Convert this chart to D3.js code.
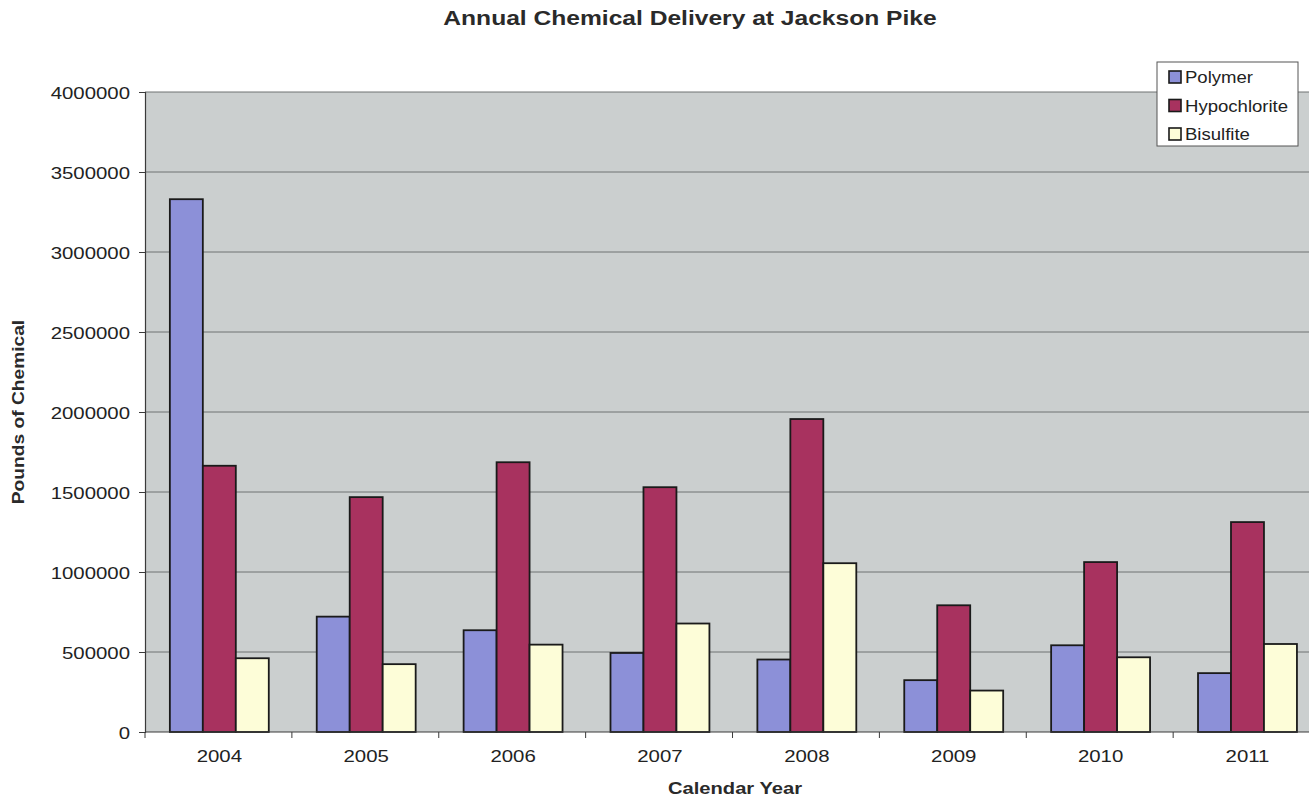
<!DOCTYPE html>
<html>
<head>
<meta charset="utf-8">
<script src="https://cdn.jsdelivr.net/npm/d3@7"></script>
<style>
  body { margin: 0; background: #fff; }
  svg { display: block; font-family: "Liberation Sans", Arial, sans-serif; }
</style>
</head>
<body>
<svg id="chart" width="1309" height="799"></svg>
<script>
const years = ["2004", "2005", "2006", "2007", "2008", "2009", "2010", "2011"];
const seriesNames = ["Polymer", "Hypochlorite", "Bisulfite"];
const polymer = [3330000, 721000, 636000, 494000, 453000, 324000, 542000, 368000];
const hypochlorite = [1664000, 1468000, 1686000, 1530000, 1956000, 792000, 1062000, 1312000];
const bisulfite = [461000, 424000, 546000, 678000, 1055000, 259000, 467000, 550000];
const yTicks = [0, 500000, 1000000, 1500000, 2000000, 2500000, 3000000, 3500000, 4000000];

const colors = { Polymer: "#8c90d8", Hypochlorite: "#a8325f", Bisulfite: "#fdfdd8" };
const values = { Polymer: polymer, Hypochlorite: hypochlorite, Bisulfite: bisulfite };

// the scanned original is a bit wider than tall, stretch text horizontally
const SX = 1.2;

const svg = d3.select("#chart");
const plotLeft = 145, plotTop = 92, plotBottom = 732, step = 147.1;
const pad = 0.3265;

const x = d3.scaleBand()
  .domain(years)
  .range([plotLeft, plotLeft + step * years.length])
  .paddingInner(pad)
  .paddingOuter(pad / 2 + 0.006);

const xSub = d3.scaleBand()
  .domain(seriesNames)
  .range([0, x.bandwidth()]);

const y = d3.scaleLinear()
  .domain([0, 4000000])
  .range([plotBottom, plotTop]);

// plot background
svg.append("rect")
  .attr("x", plotLeft)
  .attr("y", plotTop)
  .attr("width", 1309 - plotLeft)
  .attr("height", plotBottom - plotTop)
  .attr("fill", "#cbcfcf");

// gridlines
svg.append("g")
  .selectAll("line")
  .data(yTicks.slice(1))
  .join("line")
  .attr("x1", plotLeft)
  .attr("x2", 1309)
  .attr("y1", d => y(d))
  .attr("y2", d => y(d))
  .attr("stroke", "#6f7272")
  .attr("stroke-width", 1);

// bars
const groups = svg.append("g")
  .selectAll("g")
  .data(years)
  .join("g")
  .attr("transform", d => `translate(${x(d)},0)`);

groups.selectAll("rect")
  .data((yr, i) => seriesNames.map(s => ({ s, v: values[s][i] })))
  .join("rect")
  .attr("x", d => xSub(d.s))
  .attr("y", d => y(d.v))
  .attr("width", xSub.bandwidth())
  .attr("height", d => plotBottom - y(d.v))
  .attr("fill", d => colors[d.s])
  .attr("stroke", "#1a1a1a")
  .attr("stroke-width", 1.8);

// y axis
const yAxis = svg.append("g")
  .attr("transform", `translate(${plotLeft},0)`)
  .call(d3.axisLeft(y).tickValues(yTicks).tickSize(6).tickPadding(0).tickFormat(d3.format("d")));
yAxis.select(".domain").attr("stroke", "#3a3a3a").attr("stroke-width", 1.2);
yAxis.selectAll(".tick line").attr("stroke", "#3a3a3a");
yAxis.selectAll("text")
  .attr("x", -15 / SX)
  .attr("dy", "0.36em")
  .attr("transform", `scale(${SX},1)`)
  .attr("font-size", 17)
  .attr("font-family", "'Liberation Sans', Arial, sans-serif")
  .attr("fill", "#222");

// x axis: labels centred, ticks between categories
const xAxis = svg.append("g")
  .attr("transform", `translate(0,${plotBottom})`)
  .call(d3.axisBottom(x).tickSize(0).tickPadding(0));
xAxis.select(".domain").remove();
xAxis.selectAll(".tick text")
  .attr("x", 0)
  .attr("y", 30)
  .attr("dy", 0)
  .attr("transform", `scale(${SX},1)`)
  .attr("font-size", 17)
  .attr("font-family", "'Liberation Sans', Arial, sans-serif")
  .attr("fill", "#222");

svg.append("line")
  .attr("x1", plotLeft)
  .attr("x2", 1309)
  .attr("y1", plotBottom)
  .attr("y2", plotBottom)
  .attr("stroke", "#3a3a3a")
  .attr("stroke-width", 1.2);

const boundaries = [plotLeft].concat(years.map((d, i) => plotLeft + (i + 1) * x.step()));
svg.append("g")
  .selectAll("line")
  .data(boundaries)
  .join("line")
  .attr("x1", d => d)
  .attr("x2", d => d)
  .attr("y1", plotBottom)
  .attr("y2", plotBottom + 6)
  .attr("stroke", "#3a3a3a");

// title and axis titles
svg.append("text")
  .attr("transform", `translate(690,25) scale(1.23,1)`)
  .attr("text-anchor", "middle")
  .attr("font-size", 20)
  .attr("font-weight", "bold")
  .attr("fill", "#2a2a2a")
  .text("Annual Chemical Delivery at Jackson Pike");

svg.append("text")
  .attr("transform", `translate(735,794) scale(1.26,1)`)
  .attr("text-anchor", "middle")
  .attr("font-size", 16)
  .attr("font-weight", "bold")
  .attr("fill", "#2a2a2a")
  .text("Calendar Year");

svg.append("text")
  .attr("transform", `translate(24,412) rotate(-90) scale(1.2,1)`)
  .attr("text-anchor", "middle")
  .attr("font-size", 16)
  .attr("font-weight", "bold")
  .attr("fill", "#2a2a2a")
  .text("Pounds of Chemical");

// legend
const legend = svg.append("g").attr("transform", "translate(1157,62)");
legend.append("rect")
  .attr("width", 141)
  .attr("height", 84)
  .attr("fill", "#fff")
  .attr("stroke", "#555")
  .attr("stroke-width", 1);

const items = legend.selectAll("g.item")
  .data(seriesNames)
  .join("g")
  .attr("class", "item")
  .attr("transform", (d, i) => `translate(12,${9 + i * 28.5})`);

items.append("rect")
  .attr("width", 12)
  .attr("height", 12)
  .attr("fill", d => colors[d])
  .attr("stroke", "#1a1a1a")
  .attr("stroke-width", 1.6);

items.append("text")
  .attr("transform", "translate(16,12) scale(1.16,1)")
  .attr("font-size", 16)
  .attr("fill", "#222")
  .text(d => d);
</script>
</body>
</html>
